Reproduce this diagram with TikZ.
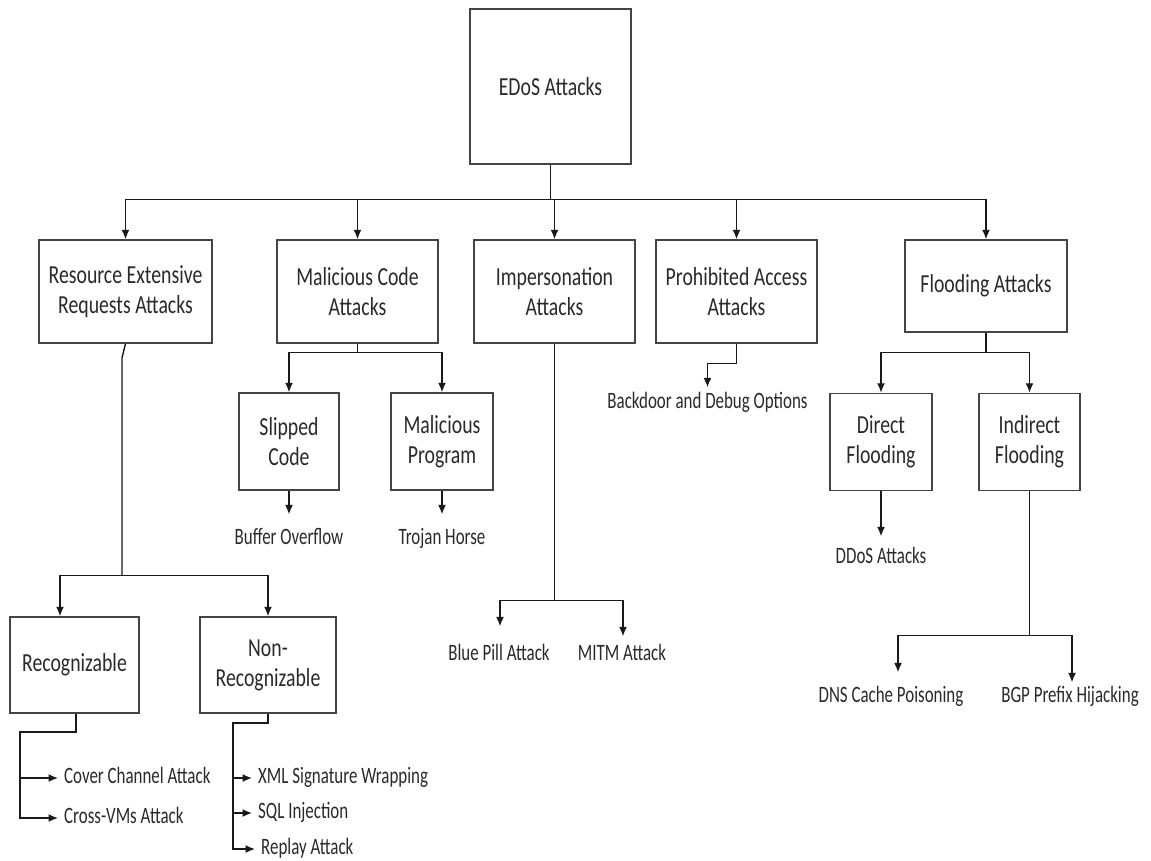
\documentclass[tikz,border=0pt]{standalone}
\usepackage{fontspec}
\usetikzlibrary{arrows.meta}
\newfontfamily\boxfont[FakeStretch=0.76]{Carlito}
\newfontfamily\leaffont[FakeStretch=0.72]{Carlito}
\definecolor{ink}{HTML}{2A2A2A}
\definecolor{edge}{HTML}{444444}

\begin{document}
\begin{tikzpicture}[x=1pt,y=-1pt,
  box/.style={draw=edge, line width=1.5pt, rectangle, align=center, text=ink,
    inner sep=0pt, font=\boxfont\fontsize{26}{30}\selectfont},
  leaf/.style={text=ink, inner xsep=6pt, inner ysep=0pt, text height=15pt,
    text depth=4pt, font=\leaffont\fontsize{23.5}{27}\selectfont},
  link/.style={draw=black!90, line width=1.4pt},
  arr/.style={link, -{Latex[length=9.5pt,width=8pt]}}]

\fill[white] (0,0) rectangle (1151,860);
\useasboundingbox (0,0) rectangle (1151,860);

% category boxes
\node[box, minimum width=161pt, minimum height=155pt] (edos) at (550.5,86.5) {EDoS Attacks};
\node[box, minimum width=173pt, minimum height=103pt] (res) at (125.5,291.5) {Resource Extensive\\Requests Attacks};
\node[box, minimum width=161pt, minimum height=103pt] (mal) at (357.5,291.5) {Malicious Code\\Attacks};
\node[box, minimum width=161pt, minimum height=103pt] (imp) at (554.5,291.5) {Impersonation\\Attacks};
\node[box, minimum width=161pt, minimum height=103pt] (pro) at (736.5,291.5) {Prohibited Access\\Attacks};
\node[box, minimum width=162pt, minimum height=92pt] (flo) at (986,286) {Flooding Attacks};
\node[box, minimum width=100pt, minimum height=97pt] (slip) at (289,441.5) {Slipped\\Code};
\node[box, minimum width=102pt, minimum height=97pt] (prog) at (442,441.5) {Malicious\\Program};
\node[box, minimum width=102pt, minimum height=97pt] (dir) at (881,442) {Direct\\Flooding};
\node[box, minimum width=101pt, minimum height=97pt] (ind) at (1029.5,442) {Indirect\\Flooding};
\node[box, minimum width=129pt, minimum height=96pt] (rec) at (74.5,665) {Recognizable};
\node[box, minimum width=136pt, minimum height=96pt] (nrec) at (268,665) {Non-\\Recognizable};

% leaf labels
\node[leaf, anchor=west] (cover) at (58,778) {Cover Channel Attack};
\node[leaf, anchor=west] (cross) at (58,818) {Cross-VMs Attack};
\node[leaf, anchor=west] (xml) at (252,778) {XML Signature Wrapping};
\node[leaf, anchor=west] (sql) at (252,813) {SQL Injection};
\node[leaf, anchor=west] (replay) at (255,849) {Replay Attack};
\node[leaf] (buf) at (289,539) {Buffer Overflow};
\node[leaf] (troj) at (442,539) {Trojan Horse};
\node[leaf] (blue) at (499,655) {Blue Pill Attack};
\node[leaf] (mitm) at (622,655) {MITM Attack};
\node[leaf] (back) at (707.5,403) {Backdoor and Debug Options};
\node[leaf] (ddos) at (881,558) {DDoS Attacks};
\node[leaf] (dns) at (891,697) {DNS Cache Poisoning};
\node[leaf] (bgp) at (1070,697) {BGP Prefix Hijacking};

% root to the five categories
\draw[link] (edos.south) -- ++(0,35) coordinate (rootj);
\foreach \n in {res,mal,imp,pro,flo} \draw[arr] (rootj) -| (\n.north);

% resource extensive requests
\draw[link] (res.south) -- ++(-3.5,14) -- ++(0,218) coordinate (resj);
\draw[arr] (resj) -| ([xshift=-14.5pt]rec.north);
\draw[arr] (resj) -| (nrec.north);
\draw[link] ([xshift=1.5pt]rec.south) |- (20,732) -- (20,778) coordinate (recj);
\draw[arr] (recj) -- (cover.west);
\draw[arr] (recj) |- (cross.west);
\draw[link] (nrec.south) |- (233,723) -- (233,778) coordinate (nrecj);
\draw[arr] (nrecj) -- (xml.west);
\draw[arr] (nrecj) |- (sql.west);
\draw[arr] (nrecj) |- (replay.west);

% malicious code
\draw[link] (mal.south) -- ++(0,9) coordinate (malj);
\draw[arr] (malj) -| (slip.north);
\draw[arr] (malj) -| (prog.north);
\draw[arr] (slip.south) -- ([yshift=15pt]buf.north);
\draw[arr] (prog.south) -- ([yshift=15pt]troj.north);

% impersonation
\draw[link] (imp.south) -- ++(0,257) coordinate (impj);
\draw[arr] (impj) -| ([xshift=1pt,yshift=19pt]blue.north);
\draw[arr] (impj) -| ([xshift=1pt,yshift=9pt]mitm.north);

% prohibited access
\draw[arr] (pro.south) -- ++(0,20) -| ([yshift=6pt]back.north);

% flooding
\draw[link] (flo.south) -- ++(0,20) coordinate (floj);
\draw[arr] (floj) -| (dir.north);
\draw[arr] (floj) -| (ind.north);
\draw[arr] (dir.south) -- ([yshift=12pt]ddos.north);
\draw[link] (ind.south) -- ++(0,144) coordinate (indj);
\draw[arr] (indj) -| ([xshift=7pt,yshift=15pt]dns.north);
\draw[arr] (indj) -| ([xshift=2pt,yshift=5pt]bgp.north);
\end{tikzpicture}
\end{document}
